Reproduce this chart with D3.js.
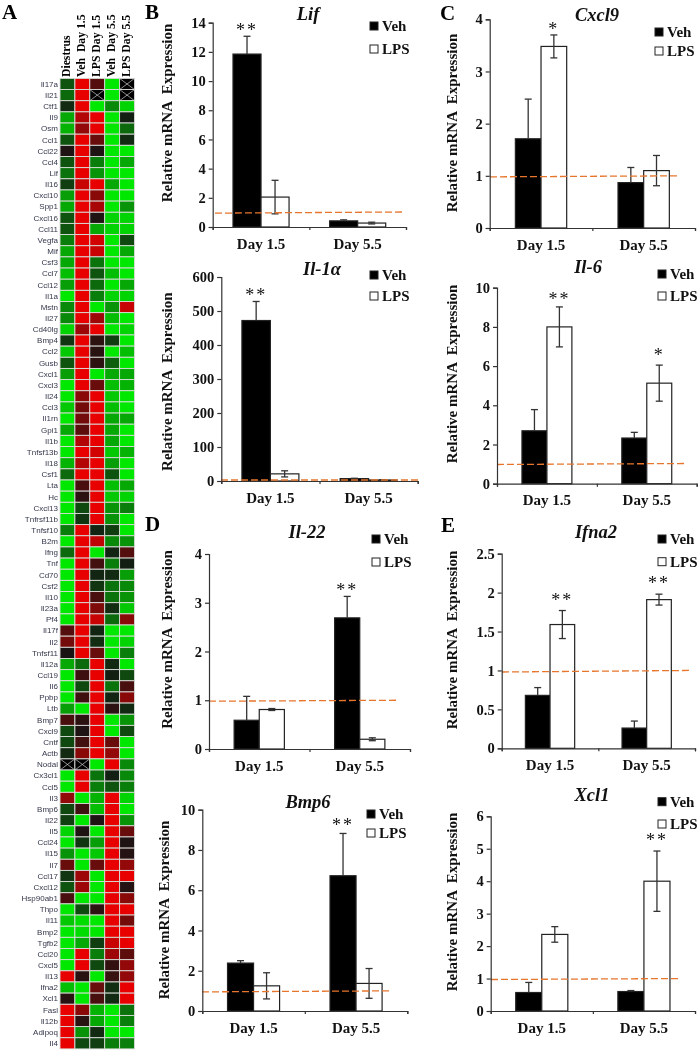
<!DOCTYPE html>
<html>
<head>
<meta charset="utf-8">
<script src="https://cdn.jsdelivr.net/npm/d3@7/dist/d3.min.js"></script>
<style>
	body { margin: 0; background: #fff; }
	svg { display: block; filter: blur(0.4px); }
	text { font-family: "Liberation Serif", serif; font-weight: bold; fill: #111; }
	.rowlabel { font-family: "Liberation Sans", Arial, sans-serif; font-weight: normal; font-size: 8px; fill: #33364a; }
</style>
</head>
<body>
<svg id="chart"></svg>
<script>
var heatColumns = ["Diestrus", "Veh  Day 1.5", "LPS Day 1.5", "Veh  Day 5.5", "LPS Day 5.5"];

var heatGenes = ["Il17a","Il21","Ctf1","Il9","Osm","Ccl1","Ccl22","Ccl4","Lif","Il16","Cxcl10","Spp1","Cxcl16","Ccl11","Vegfa","Mif","Csf3",
	"Ccl7","Ccl12","Il1a","Mstn","Il27","Cd40lg","Bmp4","Ccl2","Gusb","Cxcl1","Cxcl3","Il24","Ccl3","Il1rn","Gpi1","Il1b","Tnfsf13b","Il18","Csf1","Lta","Hc","Cxcl13","Tnfrsf11b",
	"Tnfsf10","B2m","Ifng","Tnf","Cd70","Csf2","Il10","Il23a","Pf4","Il17f","Il2","Tnfsf11","Il12a","Ccl19","Il6","Ppbp","Ltb","Bmp7","Cxcl9","Cntf","Actb","Nodal","Cx3cl1","Ccl5",
	"Il3","Bmp6","Il22","Il5","Ccl24","Il15","Il7","Ccl17","Cxcl12","Hsp90ab1","Thpo","Il11","Bmp2","Tgfb2","Ccl20","Cxcl5","Il13","Ifna2","Xcl1","Fasl","Il12b","Adipoq","Il4"];

// one row per gene, -1 green, 0 black, 1 red, null is the crossed out cell
var heatValues = [
	[-0.3,1,0.3,-1,null],[-0.4,1,null,-1,null],[-0.1,1,-1,-0.55,-0.9],[-0.7,0.75,1,-1,-0.05],[-0.75,0.6,1,-1,-0.4],
	[-0.3,1,0.4,-1,-0.1],[0.05,1,0.05,-1,-1],[-0.3,1,-0.5,-1,-0.7],[-0.45,1,-0.6,-1,-1],[-0.2,0.85,1,-0.7,-1],
	[-0.65,1,0.55,-1,-1],[-0.7,1,0.7,-1,-0.6],[-0.3,1,0.05,-0.9,-0.9],[-0.3,1,-0.7,-0.9,-0.9],[-0.5,1,0.9,-1,-0.25],
	[-0.7,1,0.85,-1,-0.7],[-0.7,1,-0.45,-1,-1],[-0.8,1,-0.3,-0.8,-1],[-0.65,1,-0.4,-1,-0.7],[-1,1,-0.5,-0.9,-0.9],
	[-0.55,1,-1,-0.6,0.85],[-0.55,1,0.65,-0.8,-1],[-0.9,0.65,1,-1,-0.9],[-0.15,1,0.12,-0.2,-1],[-0.85,1,0.1,-1,-0.8],
	[-0.3,1,0.12,-0.35,-1],[-0.65,1,-1,-0.7,-0.7],[-1,1,0.4,-0.8,-0.75],[-1,0.55,1,-0.85,-1],[-0.85,0.45,1,-0.8,-1],
	[-1,0.45,1,-0.7,-0.7],[-0.7,0.35,1,-0.7,-1],[-1,0.75,1,-0.7,-1],[-1,1,0.9,-0.85,-0.75],[-0.75,0.75,1,-0.65,-1],
	[-0.4,1,1,-0.3,-1],[-1,0.25,1,-0.8,-0.7],[-1,0.12,1,-0.85,-0.9],[-1,-0.25,1,-0.6,-0.5],[-1,-0.15,1,-0.6,-1],
	[-0.5,1,-0.08,-0.2,-1],[-1,1,0.8,-0.55,-0.6],[-0.4,1,-1,-0.08,0.3],[-1,1,0.22,-0.5,-0.05],[-1,1,-0.08,-0.1,-0.65],
	[-1,1,-0.15,-0.45,-0.55],[-1,1,0.25,-0.45,-0.6],[-1,1,0.5,-0.12,-0.85],[-1,1,0.85,-0.4,0.55],[0.3,1,-0.08,-1,-1],
	[0.45,1,-0.12,-1,-0.9],[0.03,1,0.4,-1,-0.5],[-0.7,-0.4,1,-0.1,-1],[-1,0.2,1,-0.05,-0.25],[-1,-0.25,1,-0.45,0.25],
	[-1,0.2,1,-0.08,0.55],[-0.65,-1,1,0.12,-0.1],[0.25,0.12,1,-1,-0.6],[-0.25,0.05,1,-1,-0.25],[-0.25,0.22,1,0.4,-1],
	[-0.1,0.55,1,0.6,-1],[null,null,-1,1,-0.55],[-1,1,-0.45,-0.05,-0.55],[-1,1,-0.5,-0.3,-0.5],[0.6,-1,-0.75,1,-0.9],
	[-0.25,0.2,-0.8,1,-1],[-0.2,-1,0.05,1,-0.6],[-0.9,0.05,-1,1,0.4],[-1,-0.15,-0.65,1,0.05],[-0.6,-1,-0.85,1,0.08],
	[0.4,-1,0.4,1,0.6],[-0.15,0.65,-1,1,1],[-0.3,0.65,-1,1,0.08],[0.25,-1,-1,1,0.55],[-1,-0.25,0.12,1,1],
	[-0.85,-0.95,-1,1,0.45],[-1,-0.95,-1,1,1],[-1,-0.7,-0.2,0.85,1],[-1,1,-0.5,0.65,0.35],[-1,1,-0.25,0.15,0.6],
	[1,0.1,-1,0.17,0.6],[-0.8,-1,0.4,-0.12,1],[0.1,-1,0.25,-0.1,1],[1,0.55,-0.75,-1,-0.45],[1,0.1,-0.7,-1,-0.5],
	[1,-0.6,-0.1,-1,-1],[1,-0.25,-0.2,-0.5,-0.5]
];

var days = ["Day 1.5", "Day 5.5"];

var lifVeh = [11.85, 0.42], lifVehErr = [1.22, 0.07], lifLps = [2.05, 0.27], lifLpsErr = [1.15, 0.06];
var lifTicks = [0, 2, 4, 6, 8, 10, 12, 14];

var il1aVeh = [472, 7], il1aVehErr = [56, 1], il1aLps = [21, 3], il1aLpsErr = [9, 1];
var il1aTicks = [0, 100, 200, 300, 400, 500, 600];

var cxcl9Veh = [1.71, 0.87], cxcl9VehErr = [0.76, 0.29], cxcl9Lps = [3.48, 1.1], cxcl9LpsErr = [0.22, 0.29];
var cxcl9Ticks = [0, 1, 2, 3, 4];

var il6Veh = [2.7, 2.33], il6VehErr = [1.08, 0.29], il6Lps = [8.0, 5.13], il6LpsErr = [1.02, 0.92];
var il6Ticks = [0, 2, 4, 6, 8, 10];

var il22Veh = [0.59, 2.69], il22VehErr = [0.49, 0.44], il22Lps = [0.81, 0.2], il22LpsErr = [0.02, 0.03];
var il22Ticks = [0, 1, 2, 3, 4];

var bmp6Veh = [2.38, 6.72], bmp6VehErr = [0.12, 2.1], bmp6Lps = [1.25, 1.37], bmp6LpsErr = [0.65, 0.74];
var bmp6Ticks = [0, 2, 4, 6, 8, 10];

var ifna2Veh = [0.68, 0.26], ifna2VehErr = [0.1, 0.09], ifna2Lps = [1.59, 1.91], ifna2LpsErr = [0.18, 0.07];
var ifna2Ticks = [0, 0.5, 1, 1.5, 2, 2.5];

var xcl1Veh = [0.57, 0.6], xcl1VehErr = [0.31, 0.03], xcl1Lps = [2.36, 4.0], xcl1LpsErr = [0.24, 0.93];
var xcl1Ticks = [0, 1, 2, 3, 4, 5, 6];

var width = 699;
var height = 1050;

var svg = d3.select("#chart").attr("width", width).attr("height", height);

drawHeatmap();

drawPanel({ title: "Lif", veh: lifVeh, vehErr: lifVehErr, lps: lifLps, lpsErr: lifLpsErr, ticks: lifTicks, max: 14,
	x0: 212.7, x1: 406, y0: 227, y1: 22.7, barFrac: 0.29, titleX: 308, titleY: 20, labelX: 172, labelY: 113,
	legX: 370, legY: [26, 49], ref: [0.95, 1.03], refEnd: 405, refStart: 215, stars: [{ group: 0, series: 0, text: "**", dy: 8.3 }] });

drawPanel({ title: "Il-1", greek: "α", veh: il1aVeh, vehErr: il1aVehErr, lps: il1aLps, lpsErr: il1aLpsErr, ticks: il1aTicks, max: 600,
	x0: 221.3, x1: 417.7, y0: 481, y1: 277, barFrac: 0.29, titleX: 322, titleY: 275, labelX: 172, labelY: 381.7,
	legX: 370, legY: [275, 296], ref: [3, 3], refEnd: 418, refStart: 221, stars: [{ group: 0, series: 0, text: "**", dy: 9.3 }] });

drawPanel({ title: "Cxcl9", veh: cxcl9Veh, vehErr: cxcl9VehErr, lps: cxcl9Lps, lpsErr: cxcl9LpsErr, ticks: cxcl9Ticks, max: 4,
	x0: 489.7, x1: 695, y0: 228, y1: 19.3, barFrac: 0.25, titleX: 597, titleY: 20.7, labelX: 457, labelY: 123,
	legX: 655, legY: [32, 51], ref: [0.98, 1.0], refEnd: 678, refStart: 490, stars: [{ group: 0, series: 1, text: "*", dy: 8.7 }] });

drawPanel({ title: "Il-6", veh: il6Veh, vehErr: il6VehErr, lps: il6Lps, lpsErr: il6LpsErr, ticks: il6Ticks, max: 10,
	x0: 497, x1: 696.7, y0: 483.7, y1: 287.7, barFrac: 0.25, titleX: 588, titleY: 273, labelX: 457, labelY: 374,
	legX: 658, legY: [274, 296], ref: [0.98, 1.03], refEnd: 685, refStart: 497, stars: [{ group: 0, series: 1, text: "**", dy: 10 }, { group: 1, series: 1, text: "*", dy: 12.7 }] });

drawPanel({ title: "Il-22", veh: il22Veh, vehErr: il22VehErr, lps: il22Lps, lpsErr: il22LpsErr, ticks: il22Ticks, max: 4,
	x0: 209, x1: 410, y0: 749, y1: 554, barFrac: 0.25, titleX: 307, titleY: 538, labelX: 172, labelY: 639.5,
	legX: 372, legY: [539, 562], ref: [0.98, 1.0], refEnd: 398, refStart: 209, stars: [{ group: 1, series: 0, text: "**", dy: 9.3 }] });

drawPanel({ title: "Bmp6", veh: bmp6Veh, vehErr: bmp6VehErr, lps: bmp6Lps, lpsErr: bmp6LpsErr, ticks: bmp6Ticks, max: 10,
	x0: 202.3, x1: 407.3, y0: 1011, y1: 809.7, barFrac: 0.254, titleX: 308, titleY: 808, labelX: 169, labelY: 910,
	legX: 367, legY: [814, 833], ref: [0.95, 1.0], refEnd: 391, refStart: 202, stars: [{ group: 1, series: 0, text: "**", dy: 11.3 }] });

drawPanel({ title: "Ifna2", veh: ifna2Veh, vehErr: ifna2VehErr, lps: ifna2Lps, lpsErr: ifna2LpsErr, ticks: ifna2Ticks, max: 2.5,
	x0: 501.7, x1: 695, y0: 748.3, y1: 553.7, barFrac: 0.255, titleX: 596, titleY: 538, labelX: 457, labelY: 640,
	legX: 658, legY: [539, 561.7], ref: [0.98, 1.0], refEnd: 689, refStart: 502, stars: [{ group: 0, series: 1, text: "**", dy: 13.3 }, { group: 1, series: 1, text: "**", dy: 14 }] });

drawPanel({ title: "Xcl1", veh: xcl1Veh, vehErr: xcl1VehErr, lps: xcl1Lps, lpsErr: xcl1LpsErr, ticks: xcl1Ticks, max: 6,
	x0: 490.7, x1: 695, y0: 1011, y1: 816.3, barFrac: 0.255, titleX: 592, titleY: 801, labelX: 457, labelY: 902,
	legX: 658, legY: [801.7, 824], ref: [0.97, 1.0], refEnd: 678, refStart: 491, stars: [{ group: 1, series: 1, text: "**", dy: 13.3 }] });

// panel letters
var letters = [["A", 2, 19], ["B", 145, 19], ["C", 440, 20], ["D", 145, 531], ["E", 441, 532]];
svg.selectAll(".panel-letter")
	.data(letters)
	.enter().append("text")
	.attr("class", "panel-letter")
	.attr("x", function(d) { return d[1]; })
	.attr("y", function(d) { return d[2]; })
	.style("font-size", "21px")
	.style("fill", "#000")
	.text(function(d) { return d[0]; });

function drawHeatmap() {
	var x = d3.scaleBand().domain(d3.range(heatColumns.length)).range([60, 134.5]);
	var y = d3.scaleBand().domain(heatGenes).range([78.4, 1048.9]);
	var color = d3.scaleLinear().domain([-1, 0, 1]).range(["#00e800", "#141414", "#e80000"]);

	var g = svg.append("g").attr("class", "heatmap");

	var row = g.selectAll(".row")
		.data(heatGenes)
		.enter().append("g")
		.attr("class", "row")
		.attr("transform", function(d) { return "translate(0," + y(d) + ")"; });

	row.append("text")
		.attr("class", "rowlabel")
		.attr("x", 58)
		.attr("y", y.bandwidth() / 2)
		.attr("dy", ".35em")
		.attr("text-anchor", "end")
		.text(function(d) { return d; });

	var cell = row.selectAll(".cell")
		.data(function(d, i) { return heatValues[i].map(function(v, j) { return { v: v, j: j }; }); })
		.enter().append("g")
		.attr("class", "cell");

	cell.append("rect")
		.attr("x", function(d) { return x(d.j); })
		.attr("width", x.bandwidth())
		.attr("height", y.bandwidth())
		.attr("fill", function(d) { return d.v === null ? "#000" : color(d.v); })
		.attr("stroke", "#d9dcd9")
		.attr("stroke-width", 0.9);

	// crossed out cells
	cell.filter(function(d) { return d.v === null; })
		.selectAll("line")
		.data(function(d) { return [[d.j, 0, 1], [d.j, 1, 0]]; })
		.enter().append("line")
		.attr("x1", function(d) { return x(d[0]); })
		.attr("x2", function(d) { return x(d[0]) + x.bandwidth(); })
		.attr("y1", function(d) { return d[1] * y.bandwidth(); })
		.attr("y2", function(d) { return d[2] * y.bandwidth(); })
		.attr("stroke", "#ccc")
		.attr("stroke-width", 0.7);

	g.selectAll(".collabel")
		.data(heatColumns)
		.enter().append("text")
		.attr("class", "collabel")
		.attr("transform", function(d, i) { return "translate(" + (x(i) + x.bandwidth() / 2 + 3) + ",77) rotate(-90)"; })
		.style("font-size", "11.7px")
		.style("fill", "#000")
		.style("white-space", "pre")
		.text(function(d) { return d; });
}

function drawPanel(p) {
	var g = svg.append("g").attr("class", "panel");

	var x = d3.scaleBand().domain(days).range([p.x0, p.x1]);
	var y = d3.scaleLinear().domain([0, p.max]).range([p.y0, p.y1]);
	var barW = x.bandwidth() * p.barFrac;

	var series = [
		{ values: p.veh, errs: p.vehErr, fill: "#000", offset: -1 },
		{ values: p.lps, errs: p.lpsErr, fill: "#fff", offset: 0 }
	];

	function barX(day, s) { return x(day) + x.bandwidth() / 2 + s.offset * barW; }

	series.forEach(function(s) {
		var bars = g.append("g").selectAll("g")
			.data(days)
			.enter().append("g");

		bars.append("rect")
			.attr("x", function(d) { return barX(d, s); })
			.attr("y", function(d, i) { return y(s.values[i]); })
			.attr("width", barW)
			.attr("height", function(d, i) { return p.y0 - y(s.values[i]); })
			.attr("fill", s.fill)
			.attr("stroke", "#222")
			.attr("stroke-width", 1.2);

		// the lower whisker only shows on the white bars
		bars.append("line")
			.attr("x1", function(d) { return barX(d, s) + barW / 2; })
			.attr("x2", function(d) { return barX(d, s) + barW / 2; })
			.attr("y1", function(d, i) { return y(s.values[i] + s.errs[i]); })
			.attr("y2", function(d, i) { return s.offset == 0 ? y(s.values[i] - s.errs[i]) : y(s.values[i]); })
			.attr("stroke", "#333")
			.attr("stroke-width", 1.3);

		bars.append("line")
			.attr("x1", function(d) { return barX(d, s) + barW / 2 - 3.5; })
			.attr("x2", function(d) { return barX(d, s) + barW / 2 + 3.5; })
			.attr("y1", function(d, i) { return y(s.values[i] + s.errs[i]); })
			.attr("y2", function(d, i) { return y(s.values[i] + s.errs[i]); })
			.attr("stroke", "#333")
			.attr("stroke-width", 1.3);

		if (s.offset == 0) {
			bars.append("line")
				.attr("x1", function(d) { return barX(d, s) + barW / 2 - 3.5; })
				.attr("x2", function(d) { return barX(d, s) + barW / 2 + 3.5; })
				.attr("y1", function(d, i) { return y(s.values[i] - s.errs[i]); })
				.attr("y2", function(d, i) { return y(s.values[i] - s.errs[i]); })
				.attr("stroke", "#333")
				.attr("stroke-width", 1.3);
		}
	});

	// dashed reference line at 1
	g.append("line")
		.attr("x1", p.refStart)
		.attr("x2", p.refEnd)
		.attr("y1", y(p.ref[0]))
		.attr("y2", y(p.ref[1]))
		.attr("stroke", "#e8752c")
		.attr("stroke-width", 1.3)
		.attr("stroke-dasharray", "7,3");

	var yAxis = g.append("g")
		.attr("transform", "translate(" + p.x0 + ",0)")
		.call(d3.axisLeft(y).tickValues(p.ticks).tickSizeOuter(0).tickSize(4).tickPadding(3).tickFormat(d3.format("~g")));

	var xTicks = g.append("g")
		.attr("transform", "translate(0," + p.y0 + ")")
		.call(d3.axisBottom(d3.scaleLinear().domain([0, days.length]).range([p.x0, p.x1]))
			.tickValues(d3.range(days.length + 1)).tickSizeOuter(0).tickSize(3).tickFormat(""));

	var xLabels = g.append("g")
		.attr("transform", "translate(0," + p.y0 + ")")
		.call(d3.axisBottom(x).tickSize(0).tickPadding(11));
	xLabels.select(".domain").remove();

	[yAxis, xTicks].forEach(function(a) {
		a.selectAll(".domain, line").attr("stroke", "#333").attr("stroke-width", 1.2);
	});
	yAxis.selectAll("text").style("font-size", "14.5px").style("font-family", "Liberation Serif").style("fill", "#111");
	xLabels.selectAll("text").style("font-size", "15px").style("font-family", "Liberation Serif").style("fill", "#111");

	var title = g.append("text")
		.attr("x", p.titleX)
		.attr("y", p.titleY)
		.attr("text-anchor", "middle")
		.style("font-size", "18.5px")
		.style("font-style", "italic")
		.text(p.title);
	if (p.greek) title.append("tspan").text(p.greek);

	g.append("text")
		.attr("transform", "translate(" + p.labelX + "," + p.labelY + ") rotate(-90)")
		.attr("text-anchor", "middle")
		.style("font-size", "15px")
		.style("white-space", "pre")
		.text("Relative mRNA  Expression");

	// legend
	var legend = g.selectAll(".legend")
		.data(["Veh", "LPS"])
		.enter().append("g")
		.attr("class", "legend")
		.attr("transform", function(d, i) { return "translate(" + p.legX + "," + p.legY[i] + ")"; });

	legend.append("rect")
		.attr("x", 0)
		.attr("y", -4)
		.attr("width", 8)
		.attr("height", 8)
		.attr("fill", function(d, i) { return i == 0 ? "#000" : "#fff"; })
		.attr("stroke", "#222")
		.attr("stroke-width", 1);

	legend.append("text")
		.attr("x", 12)
		.attr("y", 5)
		.style("font-size", "15px")
		.text(function(d) { return d; });

	// significance stars, dy is the gap above the whisker
	g.selectAll(".star")
		.data(p.stars)
		.enter().append("text")
		.attr("class", "star")
		.attr("x", function(d) { return barX(days[d.group], series[d.series]) + barW / 2; })
		.attr("y", function(d) {
			var s = series[d.series];
			return y(s.values[d.group] + s.errs[d.group]) - d.dy + 8.5;
		})
		.attr("text-anchor", "middle")
		.style("font-size", "18px")
		.style("font-weight", "normal")
		.style("letter-spacing", "2px")
		.text(function(d) { return d.text; });
}
</script>
</body>
</html>
